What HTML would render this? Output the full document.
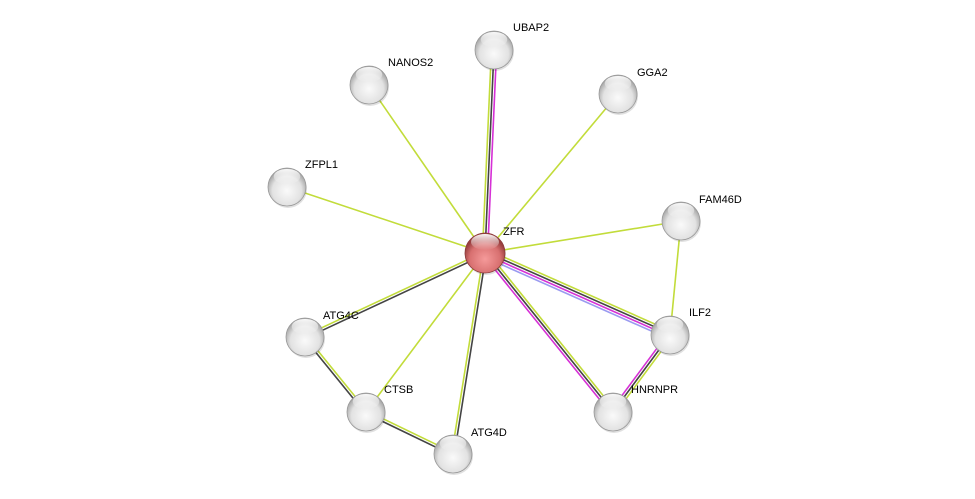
<!DOCTYPE html>
<html><head><meta charset="utf-8"><style>
html,body{margin:0;padding:0;background:#fff;width:975px;height:499px;overflow:hidden}
text{font-family:"Liberation Sans",sans-serif;font-size:11px;fill:#000}
</style></head><body>
<svg id="s" width="975" height="499" xmlns="http://www.w3.org/2000/svg">
<defs>
<radialGradient id="g" cx="50%" cy="60%" r="55%">
<stop offset="0" stop-color="#fafafa"/><stop offset="0.7" stop-color="#e2e2e2"/><stop offset="1" stop-color="#a8a8a8"/>
</radialGradient>
<radialGradient id="r" cx="50%" cy="65%" r="55%">
<stop offset="0" stop-color="#f59a9a"/><stop offset="0.7" stop-color="#d87070"/><stop offset="1" stop-color="#9a4040"/>
</radialGradient>
<linearGradient id="h" x1="0" y1="0" x2="0" y2="1">
<stop offset="0" stop-color="#fff" stop-opacity="0.95"/><stop offset="1" stop-color="#fff" stop-opacity="0"/>
</linearGradient>
</defs>
<g id="edges"></g>
<g id="nodes"></g>
</svg>
<script>
var N={ZFR:[485,253],UBAP2:[494,50],NANOS2:[369,85],GGA2:[618,94],ZFPL1:[287,187],FAM46D:[681,221],ILF2:[670,335],HNRNPR:[613,412],ATG4C:[305,337],CTSB:[366,412],ATG4D:[453,454]};
var G="#c2dc3a",K="#444",M="#d630d6",B="#9a9af0";
var E=[["ZFR","UBAP2",[G,K,M]],["ZFR","NANOS2",[G]],["ZFR","GGA2",[G]],["ZFR","ZFPL1",[G]],["ZFR","FAM46D",[G]],
["ZFR","ILF2",[G,K,M,B]],["ZFR","HNRNPR",[G,K,M]],["ZFR","ATG4C",[K,G]],["ZFR","CTSB",[G]],["ZFR","ATG4D",[K,G]],
["FAM46D","ILF2",[G]],["ILF2","HNRNPR",[G,K,M]],["ATG4C","CTSB",[G,K]],["CTSB","ATG4D",[G,K]]];
var ns="http://www.w3.org/2000/svg",eg=document.getElementById("edges"),ng=document.getElementById("nodes");
E.forEach(function(e){var a=N[e[0]],b=N[e[1]],dx=b[0]-a[0],dy=b[1]-a[1],l=Math.hypot(dx,dy),px=-dy/l,py=dx/l,n=e[2].length;
e[2].forEach(function(c,i){var o=(i-(n-1)/2)*2.6;var ln=document.createElementNS(ns,"line");
ln.setAttribute("x1",a[0]+px*o);ln.setAttribute("y1",a[1]+py*o);ln.setAttribute("x2",b[0]+px*o);ln.setAttribute("y2",b[1]+py*o);
ln.setAttribute("stroke",c);ln.setAttribute("stroke-width","1.6");eg.appendChild(ln);});});
var L={ZFR:[503,235],UBAP2:[513,31],NANOS2:[388,66],GGA2:[637,76],ZFPL1:[305,168],FAM46D:[699,203],ILF2:[689,316],HNRNPR:[631,393],ATG4C:[323,319],CTSB:[384,393],ATG4D:[471,436]};
for(var k in N){var p=N[k],rr=k=="ZFR"?20:19;
var sh=document.createElementNS(ns,"circle");sh.setAttribute("cx",p[0]+1);sh.setAttribute("cy",p[1]+2);sh.setAttribute("r",rr);sh.setAttribute("fill","#000");sh.setAttribute("opacity","0.12");ng.appendChild(sh);
var c=document.createElementNS(ns,"circle");c.setAttribute("cx",p[0]);c.setAttribute("cy",p[1]);c.setAttribute("r",rr);c.setAttribute("fill",k=="ZFR"?"url(#r)":"url(#g)");c.setAttribute("stroke",k=="ZFR"?"#8a3a3a":"#999");c.setAttribute("stroke-width","0.8");ng.appendChild(c);
var hl=document.createElementNS(ns,"ellipse");hl.setAttribute("cx",p[0]);hl.setAttribute("cy",p[1]-rr*0.55);hl.setAttribute("rx",rr*0.7);hl.setAttribute("ry",rr*0.4);hl.setAttribute("fill","url(#h)");ng.appendChild(hl);
var t=document.createElementNS(ns,"text");t.setAttribute("x",L[k][0]);t.setAttribute("y",L[k][1]);t.textContent=k;ng.appendChild(t);}
</script>
</body></html>
